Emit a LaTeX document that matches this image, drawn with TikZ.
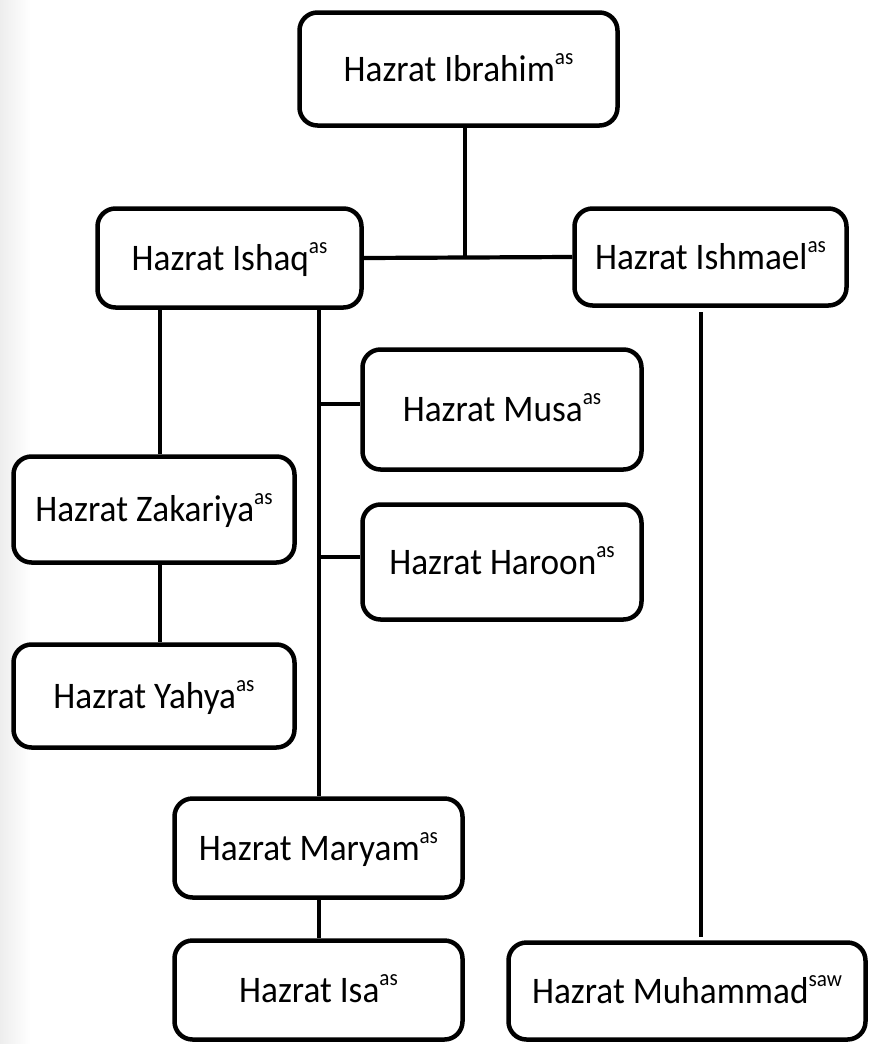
\documentclass[tikz,border=0pt]{standalone}
\usepackage{fontspec}
\setmainfont{Carlito}[FakeStretch=0.94]
\begin{document}
\begin{tikzpicture}[x=1pt,y=-1pt,
  pbox/.style={draw=black, line width=4.5pt, rounded corners=18pt, fill=white,
    inner sep=0pt, text height=24pt, text depth=0pt, align=center,
    font=\fontsize{37.5}{40}\selectfont},
  link/.style={draw=black, line width=4.2pt}]
\useasboundingbox (0,0) rectangle (870,1044);
\fill[white] (0,0) rectangle (870,1044);
\shade[left color=black!7, right color=white] (0,0) rectangle (30,1044);
\newcommand{\hsup}[1]{\raisebox{17pt}{\fontsize{22.5}{23}\selectfont #1}}
% boxes
\node[pbox, minimum width=318pt, minimum height=113pt] (ibr) at (458.5,69) {Hazrat Ibrahim\hsup{as}};
\node[pbox, minimum width=264pt, minimum height=99pt] (ish) at (229.5,258) {Hazrat Ishaq\hsup{as}};
\node[pbox, minimum width=272pt, minimum height=97pt] (ism) at (710.5,257) {Hazrat Ishmael\hsup{as}};
\node[pbox, minimum width=279pt, minimum height=120pt] (mus) at (502,409.5) {Hazrat Musa\hsup{as}};
\node[pbox, minimum width=279pt, minimum height=115pt] (har) at (502,562) {Hazrat Haroon\hsup{as}};
\node[pbox, minimum width=281pt, minimum height=106pt] (zak) at (154,509.5) {Hazrat Zakariya\hsup{as}};
\node[pbox, minimum width=281pt, minimum height=103pt] (yah) at (154,696) {Hazrat Yahya\hsup{as}};
\node[pbox, minimum width=288pt, minimum height=99pt] (mar) at (318.5,848) {Hazrat Maryam\hsup{as}};
\node[pbox, minimum width=288pt, minimum height=99pt] (isa) at (318.5,990) {Hazrat Isa\hsup{as}};
\node[pbox, minimum width=357pt, minimum height=97pt] (muh) at (687,991) {Hazrat Muhammad\hsup{saw}};
% junction coordinates
\coordinate (j1) at (465,258);
\coordinate (ibrb) at (465,126);
\coordinate (ishL) at (160,308);
\coordinate (ishR) at (319,308);
\coordinate (jmus) at (319,404);
\coordinate (jhar) at (319,557);
\coordinate (ismB) at (701,312);
\coordinate (muhT) at (701,937);
% connectors
\draw[link] (ibrb) -- (j1);
\draw[link] (ish.east) -- (ism.west);
\draw[link] (ishL) -- (ishL |- zak.north);
\draw[link] (ishL |- zak.south) -- (ishL |- yah.north);
\draw[link] (ishR) -- (ishR |- mar.north);
\draw[link] (jmus) -- (jmus -| mus.west);
\draw[link] (jhar) -- (jhar -| har.west);
\draw[link] (ishR |- mar.south) -- (ishR |- isa.north);
\draw[link] (ismB) -- (muhT);
\end{tikzpicture}
\end{document}
